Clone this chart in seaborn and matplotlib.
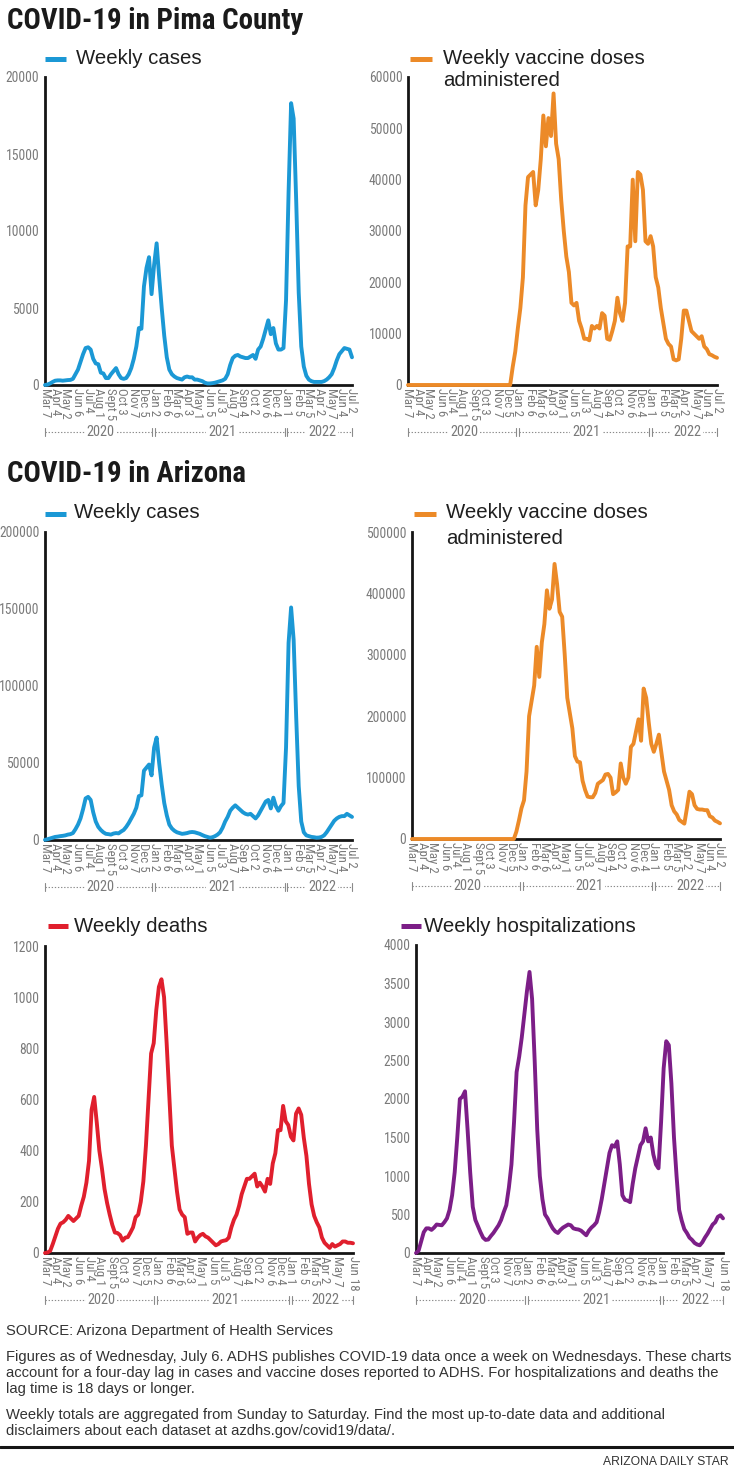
import os
import numpy as np
import pandas as pd
import matplotlib
matplotlib.use("Agg")
import matplotlib.pyplot as plt
import matplotlib.dates as mdates
import matplotlib.transforms as mtransforms
from matplotlib.lines import Line2D
from matplotlib import font_manager as fm
from matplotlib.font_manager import FontProperties
import seaborn as sns

# ---------------- DATA ----------------
START_DATE = "2020-03-07"   # weekly series, week ending Saturday

pima_cases = [0, 30, 100, 200, 280, 300, 300, 280, 300, 320,
              330, 400, 700, 1000, 1500, 2000, 2400, 2450, 2300, 1700,
              1400, 1350, 800, 750, 450, 450, 700, 900, 1100, 700,
              450, 400, 450, 700, 1100, 1700, 2500, 3700, 3650, 6400,
              7600, 8300, 5900, 7800, 9200, 7000, 5000, 3200, 1800, 1000,
              700, 550, 450, 400, 350, 500, 550, 500, 500, 350,
              350, 300, 250, 150, 100, 100, 120, 150, 200, 250,
              300, 400, 700, 1300, 1750, 1900, 1950, 1850, 1800, 1750,
              1750, 1850, 1950, 1700, 2300, 2500, 3000, 3600, 4200, 3300,
              3700, 2700, 2300, 2300, 2400, 5500, 12500, 18300, 17300, 12000,
              6000, 2500, 1200, 600, 350, 250, 200, 200, 200, 200,
              250, 350, 500, 700, 1100, 1600, 2000, 2200, 2400, 2350,
              2300, 1800]

pima_vaccines = [0] * 41 + [
    3500, 6500, 11000, 15000, 21000, 35000, 40500, 41000, 41500, 35000,
    38000, 44000, 52500, 46500, 52000, 48500, 56800, 47000, 44000, 36000,
    30000, 25000, 22000, 16000, 15500, 16000, 12500, 11000, 9000, 9000,
    8700, 11500, 11000, 11500, 11000, 14000, 13500, 9000, 8800, 10500,
    12500, 17000, 14000, 12500, 16000, 27000, 27000, 40000, 28000, 41500,
    41000, 38000, 28000, 27500, 29000, 27000, 21000, 19000, 15000, 12000,
    9000, 8000, 7500, 5000, 4800, 5000, 9000, 14500, 14500, 12500,
    10500, 10000, 9500, 9000, 9500, 7500, 7000, 6000, 5800, 5500,
    5300]

az_cases = [100, 500, 1000, 1500, 2000, 2200, 2500, 2700, 3000, 3500,
            3800, 4500, 7000, 10000, 14000, 20000, 27000, 28000, 26000, 18000,
            12000, 8500, 6500, 5000, 4000, 3800, 3500, 4200, 4500, 4300,
            5500, 6500, 8500, 11000, 14000, 17000, 21000, 28500, 29000, 45000,
            47000, 49000, 42000, 60000, 66500, 50000, 36000, 24000, 16000, 10000,
            7500, 6000, 5000, 4500, 4000, 4200, 4500, 5000, 5200, 5000,
            4500, 4000, 3200, 2500, 2000, 1500, 1800, 2500, 3500, 5000,
            8000, 12000, 15000, 19000, 21000, 22500, 21000, 19500, 18000, 17000,
            16500, 17000, 15500, 14000, 16000, 19000, 22000, 25000, 26000, 20500,
            27500, 22000, 19000, 22000, 24000, 60000, 128000, 151000, 130000, 80000,
            35000, 12000, 5000, 3000, 2500, 2000, 1800, 1500, 1600, 2000,
            3000, 5000, 7500, 10000, 12500, 14000, 15000, 15500, 15500, 17000,
            16000, 15000]

az_vaccines = [0] * 41 + [
    12000, 30000, 50000, 63000, 110000, 200000, 225000, 250000, 313000, 264000,
    320000, 350000, 405000, 375000, 390000, 448000, 415000, 370000, 362000, 300000,
    230000, 205000, 180000, 135000, 126000, 125000, 95000, 80000, 69000, 68000,
    68000, 75000, 90000, 93000, 96000, 105000, 106000, 100000, 73000, 76000,
    80000, 123000, 100000, 90000, 100000, 150000, 155000, 175000, 195000, 160000,
    245000, 230000, 190000, 155000, 142000, 155000, 170000, 140000, 110000, 95000,
    80000, 55000, 45000, 40000, 31000, 28000, 25000, 50000, 77000, 73000,
    55000, 49000, 48000, 48000, 47000, 47000, 37000, 35000, 30000, 28000,
    25500]

az_deaths = [0, 2, 8, 35, 65, 95, 115, 120, 130, 145,
             135, 125, 135, 145, 185, 220, 275, 360, 560, 610,
             510, 400, 330, 250, 195, 150, 110, 80, 78, 70,
             48, 60, 62, 80, 100, 140, 150, 200, 280, 420,
             600, 780, 820, 950, 1040, 1070, 1000, 820, 620, 420,
             330, 240, 170, 150, 140, 75, 80, 80, 45, 60,
             70, 75, 65, 60, 50, 40, 30, 35, 45, 48,
             50, 60, 100, 130, 150, 185, 230, 260, 290, 290,
             300, 310, 260, 275, 260, 240, 290, 270, 350, 390,
             480, 480, 575, 515, 500, 455, 440, 545, 565, 540,
             450, 380, 270, 190, 145, 120, 100, 60, 40, 30,
             20, 35, 25, 30, 35, 45, 45, 40, 40, 38]

az_hosp = [0, 30, 150, 270, 320, 320, 300, 330, 370, 365,
           360, 400, 450, 560, 750, 1050, 1500, 2000, 2030, 2100,
           1600, 1050, 600, 430, 350, 270, 200, 170, 175, 220,
           260, 310, 360, 430, 530, 620, 850, 1150, 1700, 2350,
           2550, 2800, 3100, 3400, 3650, 3300, 2500, 1600, 1000, 700,
           500, 450, 380, 320, 280, 260, 300, 330, 350, 370,
           360, 320, 310, 305, 290, 260, 230, 290, 330, 360,
           400, 530, 700, 900, 1100, 1300, 1400, 1380, 1450, 1150,
           750, 690, 680, 660, 900, 1100, 1250, 1400, 1450, 1620,
           1450, 1500, 1280, 1150, 1100, 1700, 2400, 2750, 2700, 2200,
           1500, 1000, 560, 420, 310, 260, 200, 170, 130, 110,
           100, 140, 200, 250, 310, 370, 400, 470, 490, 450]

tick_dates = ["2020-03-07", "2020-04-04", "2020-05-02", "2020-06-06", "2020-07-04",
              "2020-08-01", "2020-09-05", "2020-10-03", "2020-11-07", "2020-12-05",
              "2021-01-02", "2021-02-06", "2021-03-06", "2021-04-03", "2021-05-01",
              "2021-06-05", "2021-07-03", "2021-08-07", "2021-09-04", "2021-10-02",
              "2021-11-06", "2021-12-04", "2022-01-01", "2022-02-05", "2022-03-05",
              "2022-04-02", "2022-05-07", "2022-06-04", "2022-07-02"]
tick_labels = ["Mar 7", "Apr 4", "May 2", "Jun 6", "Jul 4", "Aug 1", "Sept 5", "Oct 3",
               "Nov 7", "Dec 5", "Jan 2", "Feb 6", "Mar 6", "Apr 3", "May 1", "Jun 5",
               "Jul 3", "Aug 7", "Sep 4", "Oct 2", "Nov 6", "Dec 4", "Jan 1", "Feb 5",
               "Mar 5", "Apr 2", "May 7", "Jun 4", "Jul 2"]
tick_dates_lag = tick_dates[:27] + ["2022-06-18"]
tick_labels_lag = tick_labels[:27] + ["Jun 18"]

year_labels = ["2020", "2021", "2022"]
year_starts = ["2021-01-01", "2022-01-01"]

title_pima = "COVID-19 in Pima County"
title_az = "COVID-19 in Arizona"
footer_source = "SOURCE: Arizona Department of Health Services"
footer_lines_1 = ["Figures as of Wednesday, July 6. ADHS publishes COVID-19 data once a week on Wednesdays. These charts",
                  "account for a four-day lag in cases and vaccine doses reported to ADHS. For hospitalizations and deaths the",
                  "lag time is 18 days or longer."]
footer_lines_2 = ["Weekly totals are aggregated from Sunday to Saturday. Find the most up-to-date data and additional",
                  "disclaimers about each dataset at azdhs.gov/covid19/data/."]
credit = "ARIZONA DAILY STAR"

# ---------------- STYLE ----------------
sns.set_theme(style="white")
SANS = ["Liberation Sans", "DejaVu Sans"]
plt.rcParams["font.family"] = SANS


def _weight(w):
    if isinstance(w, str):
        return fm.weight_dict.get(w, 400)
    return int(w)


def find_condensed(target_weight):
    order = ["roboto", "liberation", "open", "noto", "dejavu", "lato", "inter"]
    best, best_score = None, None
    for f in fm.fontManager.ttflist:
        fn = os.path.basename(f.fname).lower().replace("-", "").replace("_", "")
        nm = f.name.lower()
        st = str(f.stretch).lower()
        isc = ("condensed" in fn or "narrow" in fn or "condensed" in nm or "narrow" in nm
               or "condensed" in st)
        if not isc:
            continue
        if "italic" in fn or "oblique" in fn or "mono" in fn or "cjk" in fn:
            continue
        if "serif" in fn and "sans" not in fn:
            continue
        rank = len(order)
        for i, o in enumerate(order):
            if o in fn or o in nm:
                rank = i
                break
        semi = 1 if ("semicondensed" in fn or "semi" in st) else 0
        score = rank * 10000 + semi * 5000 + abs(_weight(f.weight) - target_weight)
        if best_score is None or score < best_score:
            best, best_score = f.fname, score
    return best


COND_REG = find_condensed(400)
COND_BOLD = find_condensed(700)


def fp_cond(size, bold=False):
    path = COND_BOLD if bold else COND_REG
    if path:
        return FontProperties(fname=path, size=size)
    return FontProperties(family=SANS, weight="bold" if bold else "normal", size=size)


def fp_sans(size, bold=False):
    return FontProperties(family=SANS, weight="bold" if bold else "normal", size=size)


W, H = 734, 1474
fig = plt.figure(figsize=(W / 100, H / 100), dpi=100)
fig.patch.set_facecolor("white")
renderer = fig.canvas.get_renderer()


def fit(s, maker, target_w, bold=False, base=10.0):
    t = fig.text(0, 0, s, fontproperties=maker(base, bold))
    w = t.get_window_extent(renderer).width
    t.remove()
    return base * target_w / w


S_TITLE = fit(title_pima, fp_cond, 296, bold=True)
S_LEG = fit("Weekly vaccine doses", fp_sans, 202)
S_FOOT = fit(footer_lines_1[0], fp_sans, 722)
S_CREDIT = fit(credit, fp_sans, 126)
S_YT = min(fit("20000", fp_cond, 33), fit("200000", fp_cond, 40))
S_XT = fit("Sept 5", fp_cond, 32)
S_YEAR = fit("2020", fp_cond, 28)

BLUE = "#1b98d5"
ORANGE = "#ec8a28"
RED = "#e01f2d"
PURPLE = "#7c1e87"
GRAY = "#7a7a7a"
INK = "#1f1f1f"


def fx(x):
    return x / W


def fy(y):
    return 1 - y / H


def ftext(x, y, s, fp, **kw):
    fig.text(fx(x), fy(y), s, fontproperties=fp, **kw)


def legend_dash(x0, x1, y, color):
    fig.add_artist(Line2D([fx(x0), fx(x1)], [fy(y), fy(y)], transform=fig.transFigure,
                          color=color, lw=3.6, solid_capstyle="butt"))


def year_bracket(ax, start, end, ybr=-0.153):
    trans = mtransforms.blended_transform_factory(ax.transData, ax.transAxes)
    s = mdates.date2num(pd.Timestamp(start)) - 1
    e = mdates.date2num(pd.Timestamp(end)) + 1
    b = [mdates.date2num(pd.Timestamp(d)) for d in year_starts]
    gap = 4
    segs = [(s, b[0] - gap), (b[0] + gap, b[1] - gap), (b[1] + gap, e)]
    for (a, c), lab in zip(segs, year_labels):
        ax.plot([a, c], [ybr, ybr], transform=trans, clip_on=False, color="#8a8a8a",
                lw=0.8, ls=(0, (1.2, 1.6)))
        for xx in (a, c):
            ax.plot([xx, xx], [ybr - 0.013, ybr + 0.013], transform=trans, clip_on=False,
                    color="#8a8a8a", lw=0.8)
        ax.text((a + c) / 2 + 6, ybr, lab, transform=trans, ha="center", va="center",
                fontproperties=fp_cond(S_YEAR), color=GRAY,
                bbox=dict(fc="white", ec="none", pad=1.2))


def panel(rect, values, color, ymax, ystep, tdates, tlabels):
    l, t, r, b = rect
    ax = fig.add_axes([fx(l), fy(b), (r - l) / W, (b - t) / H])
    dates = pd.date_range(START_DATE, periods=len(values), freq="7D")
    df = pd.DataFrame({"date": dates, "value": values})
    sns.lineplot(data=df, x="date", y="value", ax=ax, color=color, linewidth=2.8,
                 zorder=3, clip_on=False, solid_joinstyle="round", solid_capstyle="round")
    ax.set_xlim(dates[0], dates[-1])
    ax.set_ylim(0, ymax)
    yt = list(range(0, ymax + 1, ystep))
    ax.set_yticks(yt)
    ax.set_yticklabels([str(v) for v in yt], fontproperties=fp_cond(S_YT), color=GRAY)
    ax.set_xticks(pd.to_datetime(tdates))
    ax.set_xticklabels(tlabels, rotation=270, fontproperties=fp_cond(S_XT), color=GRAY,
                       ha="center", va="top")
    ax.tick_params(axis="both", length=0)
    ax.tick_params(axis="y", pad=4)
    ax.tick_params(axis="x", pad=2)
    ax.set_xlabel("")
    ax.set_ylabel("")
    ax.grid(False)
    for sp in ("top", "right"):
        ax.spines[sp].set_visible(False)
    for sp in ("left", "bottom"):
        ax.spines[sp].set_color("#151515")
        ax.spines[sp].set_linewidth(2)
    ax.set_facecolor("white")
    year_bracket(ax, dates[0], dates[-1])
    return ax


# ---------------- TITLES & LEGENDS ----------------
ftext(7, 21, title_pima, fp_cond(S_TITLE, True), color="#1a1a1a", va="center")
ftext(7, 474, title_az, fp_cond(S_TITLE, True), color="#1a1a1a", va="center")

LEG_FP = fp_sans(S_LEG)
legend_dash(45, 66, 59, BLUE)
ftext(76, 58, "Weekly cases", LEG_FP, color=INK, va="center")
legend_dash(410, 432, 59, ORANGE)
ftext(443, 58, "Weekly vaccine doses", LEG_FP, color=INK, va="center")
ftext(443, 80, "administered", LEG_FP, color=INK, va="center")

legend_dash(45, 66, 514, BLUE)
ftext(74, 513, "Weekly cases", LEG_FP, color=INK, va="center")
legend_dash(414, 436, 514, ORANGE)
ftext(446, 513, "Weekly vaccine doses", LEG_FP, color=INK, va="center")
ftext(446, 538, "administered", LEG_FP, color=INK, va="center")

legend_dash(48, 68, 926, RED)
ftext(74, 926, "Weekly deaths", LEG_FP, color=INK, va="center")
legend_dash(401, 421, 926, PURPLE)
ftext(424, 926, "Weekly hospitalizations", LEG_FP, color=INK, va="center")

# ---------------- PANELS ----------------
panel((45, 77, 352, 385), pima_cases, BLUE, 20000, 5000, tick_dates, tick_labels)
panel((408, 77, 717, 385), pima_vaccines, ORANGE, 60000, 10000, tick_dates, tick_labels)
panel((45, 532, 352, 840), az_cases, BLUE, 200000, 50000, tick_dates, tick_labels)
panel((412, 532, 720, 839), az_vaccines, ORANGE, 500000, 100000, tick_dates, tick_labels)
panel((45, 946, 353, 1253), az_deaths, RED, 1200, 200, tick_dates_lag, tick_labels_lag)
panel((416, 945, 723, 1253), az_hosp, PURPLE, 4000, 500, tick_dates_lag, tick_labels_lag)

# ---------------- FOOTER ----------------
FOOT_FP = fp_sans(S_FOOT)
ftext(6, 1331, footer_source, FOOT_FP, color="#333333", va="center")
for i, line in enumerate(footer_lines_1):
    ftext(6, 1357 + 16 * i, line, FOOT_FP, color="#333333", va="center")
for i, line in enumerate(footer_lines_2):
    ftext(6, 1415 + 16 * i, line, FOOT_FP, color="#333333", va="center")
fig.add_artist(Line2D([0, 1], [fy(1447), fy(1447)], transform=fig.transFigure,
                      color="#151515", lw=2.2))
ftext(729, 1462, credit, fp_sans(S_CREDIT), color="#333333", va="center", ha="right")

fig.savefig("out.png", dpi=100, facecolor="white")
